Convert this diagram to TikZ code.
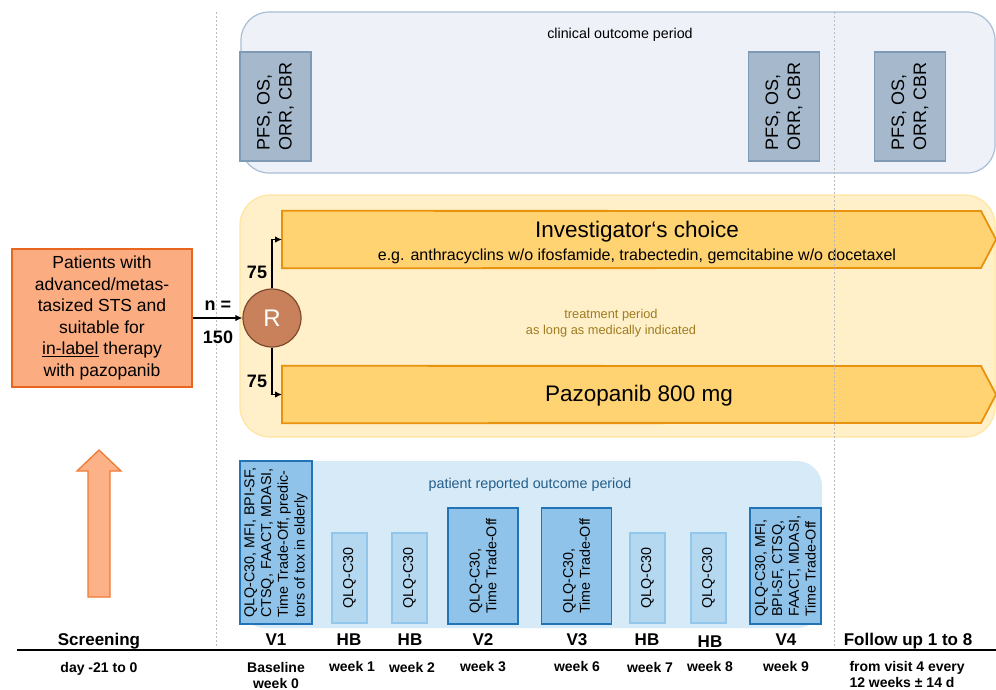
\documentclass[tikz,border=0pt]{standalone}
\usepackage{fontspec}
\setmainfont{Liberation Sans}
\usetikzlibrary{arrows.meta}
\definecolor{clinF}{HTML}{EEF1F7}
\definecolor{clinB}{HTML}{A9BDD6}
\definecolor{pfsF}{HTML}{A6B9CC}
\definecolor{pfsB}{HTML}{7F9AB5}
\definecolor{trtF}{HTML}{FFF0C9}
\definecolor{trtB}{HTML}{FFE5A0}
\definecolor{armF}{HTML}{FFD272}
\definecolor{armB}{HTML}{E8920E}
\definecolor{trtT}{HTML}{A07C20}
\definecolor{rF}{HTML}{C8815A}
\definecolor{rB}{HTML}{7F4A2C}
\definecolor{patF}{HTML}{FBAC80}
\definecolor{patB}{HTML}{E8661E}
\definecolor{upF}{HTML}{FDB186}
\definecolor{upB}{HTML}{F07A33}
\definecolor{proF}{HTML}{D7EAF7}
\definecolor{proT}{HTML}{245E8A}
\definecolor{visF}{HTML}{8FC3E9}
\definecolor{visB}{HTML}{2274B6}
\definecolor{hbF}{HTML}{B5D8F1}
\definecolor{hbB}{HTML}{92C6EB}
\definecolor{dotC}{HTML}{BBBBBB}
\tikzset{
  pfsbox/.style={draw=pfsB, fill=pfsF, line width=1.2pt, rotate=90, minimum width=109pt, minimum height=71pt, align=left, inner sep=0pt, font=\fontsize{18}{22}\selectfont},
  visbox/.style={draw=visB, fill=visF, line width=1.5pt, rotate=90, minimum width=116pt, minimum height=70pt, align=left, inner sep=0pt, font=\fontsize{14.3}{16.8}\selectfont},
  hbbox/.style={draw=hbB, fill=hbF, line width=1.5pt, rotate=90, minimum width=90pt, minimum height=35pt, align=left, inner sep=0pt, font=\fontsize{14.3}{16.8}\selectfont},
  armfill/.style={draw=armB, fill=armF, line width=1.8pt},
  guide/.style={draw=dotC, line width=1pt, dash pattern=on 2pt off 2pt},
  conn/.style={draw=black, line width=1.3pt, -{Latex[length=7pt,width=6.5pt]}},
  toplabel/.style={anchor=base, font=\fontsize{17}{20}\selectfont\bfseries},
  botlabel/.style={anchor=base, font=\fontsize{14}{16}\selectfont\bfseries},
  numlabel/.style={anchor=base, font=\fontsize{18}{20}\selectfont\bfseries},
}
\begin{document}
\begin{tikzpicture}[x=1pt,y=-1pt]
\useasboundingbox (0,0) rectangle (996,689);
% clinical outcome period
\draw[draw=clinB, fill=clinF, line width=1.2pt, rounded corners=28pt] (241,12) rectangle (995,173);
\node (clin) at (620,35) {\fontsize{14.3}{16}\selectfont clinical outcome period};
\node[pfsbox] (pfs1) at (275.5,106.5) {PFS, OS,\\ORR, CBR};
\node[pfsbox] (pfs2) at (784,106.5) {PFS, OS,\\ORR, CBR};
\node[pfsbox] (pfs3) at (910,106.5) {PFS, OS,\\ORR, CBR};
% treatment period
\draw[draw=trtB, fill=trtF, line width=1.2pt, rounded corners=30pt] (240,195) rectangle (995,437);
\node[minimum width=700pt, minimum height=57pt, anchor=west, inner sep=0pt] (inv) at (282,239.5) {};
\draw[armfill] (inv.north west) -- (981,211) -- (996,239.5) -- (981,268) -- (inv.south west) -- cycle;
\node[minimum width=700pt, minimum height=57pt, anchor=west, inner sep=0pt] (paz) at (282,394.5) {};
\draw[armfill] (paz.north west) -- (981,366) -- (996,394.5) -- (981,423) -- (paz.south west) -- cycle;
\node (invt) at (637,232) {\fontsize{22.5}{24}\selectfont Investigator‘s choice};
\node (invs) at (637,256) {\fontsize{16}{18}\selectfont e.g. anthracyclins w/o ifosfamide, trabectedin, gemcitabine w/o docetaxel};
\node (pazt) at (639,396) {\fontsize{22.5}{24}\selectfont Pazopanib 800 mg};
\node[align=center, text=trtT, font=\fontsize{12.8}{16}\selectfont] (trt) at (611,323) {treatment period\\as long as medically indicated};
% PRO period
\fill[proF, rounded corners=25pt] (240,461) rectangle (822,628);
\node[text=proT] (pro) at (530,485) {\fontsize{14.3}{16}\selectfont patient reported outcome period};
\node[visbox, minimum width=163pt, minimum height=72pt] (v1) at (276,542.5) {QLQ-C30, MFI, BPI-SF,\\CTSQ, FAACT, MDASI,\\Time Trade-Off, predic-\\tors of tox in elderly};
\node[hbbox] (hb1) at (349.5,578) {QLQ-C30};
\node[hbbox] (hb2) at (409.5,578) {QLQ-C30};
\node[visbox] (v2) at (483,566) {QLQ-C30,\\Time Trade-Off};
\node[visbox] (v3) at (576.5,566) {QLQ-C30,\\Time Trade-Off};
\node[hbbox] (hb7) at (647.5,578) {QLQ-C30};
\node[hbbox] (hb8) at (708.5,578) {QLQ-C30};
\node[visbox, minimum height=71pt] (v4) at (785.5,566) {QLQ-C30, MFI,\\BPI-SF, CTSQ,\\FAACT, MDASI,\\Time Trade-Off};
% guides
\coordinate (g1t) at (216,12); \coordinate (g1b) at (216,648);
\coordinate (g2t) at (834,12); \coordinate (g2b) at (834,648);
\draw[guide] (g1t) -- (g1b);
\draw[guide] (g2t) -- (g2b);
% timeline
\coordinate (tl0) at (17,650); \coordinate (tl1) at (996,650);
\draw[line width=2pt] (tl0) -- (tl1);
\node[toplabel] (lscr) at (99,645) {Screening};
\node[toplabel] (lv1) at (276,645) {V1};
\node[toplabel] (lhb1) at (349,645) {HB};
\node[toplabel] (lhb2) at (410,645) {HB};
\node[toplabel] (lv2) at (483,645) {V2};
\node[toplabel] (lv3) at (577,645) {V3};
\node[toplabel] (lhb7) at (647,645) {HB};
\node[toplabel] (lhb8) at (710,647) {HB};
\node[toplabel] (lv4) at (786,645) {V4};
\node[toplabel] (lfu) at (908,645) {Follow up 1 to 8};
\node[botlabel] (dscr) at (99,672) {day -21 to 0};
\node[botlabel, align=center] (dv1) at (276,688) {Baseline\\week 0};
\node[botlabel] (dhb1) at (352,671) {week 1};
\node[botlabel] (dhb2) at (412,672) {week 2};
\node[botlabel] (dv2) at (483,671) {week 3};
\node[botlabel] (dv3) at (577,671) {week 6};
\node[botlabel] (dhb7) at (650,672) {week 7};
\node[botlabel] (dhb8) at (710,671) {week 8};
\node[botlabel] (dv4) at (786,671) {week 9};
\node[botlabel, align=left, anchor=base west] (dfu) at (846,687) {from visit 4 every\\12 weeks ± 14 d};
% patients and randomisation
\node[draw=patB, fill=patF, line width=1.8pt, minimum width=180pt, minimum height=138pt, align=center, inner sep=0pt, font=\fontsize{17.5}{21.5}\selectfont] (pat) at (102,318) {Patients with\\advanced/metas-\\tasized STS and\\suitable for\\\underline{in-label} therapy\\with pazopanib};
\node[circle, draw=rB, fill=rF, line width=1.2pt, minimum size=58pt, inner sep=0pt, text=white, font=\fontsize{24}{26}\selectfont] (R) at (272,318) {R};
\draw[conn] (pat.east) -- (R.west);
\node[numlabel] (nlab) at (218,310) {n =};
\node[numlabel] (nval) at (218,343) {150};
\draw[conn] (R.north) |- (inv.west);
\draw[conn] (R.south) |- (paz.west);
\node[numlabel] (n75a) at (257,278) {75};
\node[numlabel] (n75b) at (257,387) {75};
% screening arrow
\draw[draw=upB, fill=upF, line width=1.3pt] (88,597) -- (88,471) -- (77,471) -- (99,450) -- (121,471) -- (110,471) -- (110,597) -- cycle;
\end{tikzpicture}
\end{document}
